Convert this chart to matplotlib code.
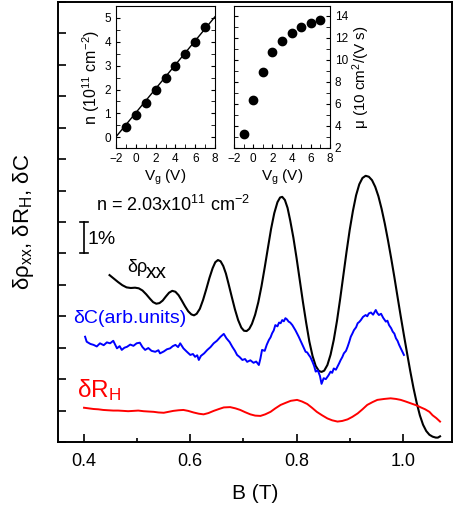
import matplotlib
matplotlib.use('Agg')
import matplotlib.pyplot as plt
from matplotlib.ticker import MultipleLocator, NullFormatter

plt.rcParams['font.family'] = ['Liberation Sans', 'DejaVu Sans']
plt.rcParams['mathtext.fontset'] = 'custom'
plt.rcParams['mathtext.rm'] = 'Liberation Sans'
plt.rcParams['mathtext.it'] = 'Liberation Sans'

# delta rho_xx (black)
b_rho = [0.448, 0.456, 0.464, 0.472, 0.480, 0.488, 0.496, 0.503, 0.510, 0.517,
         0.524, 0.530, 0.536, 0.542, 0.548, 0.554, 0.560, 0.566, 0.572, 0.578,
         0.584, 0.590, 0.596, 0.602, 0.607, 0.612, 0.618, 0.624, 0.630, 0.636,
         0.642, 0.647, 0.652, 0.657, 0.662, 0.667, 0.672, 0.678, 0.684, 0.690,
         0.696, 0.701, 0.706, 0.711, 0.716, 0.722, 0.728, 0.734, 0.740, 0.746,
         0.752, 0.758, 0.764, 0.769, 0.773, 0.778, 0.783, 0.788, 0.794, 0.800,
         0.806, 0.812, 0.818, 0.824, 0.830, 0.836, 0.842, 0.847, 0.852, 0.858,
         0.864, 0.870, 0.876, 0.882, 0.888, 0.894, 0.900, 0.906, 0.912, 0.918,
         0.924, 0.930, 0.936, 0.942, 0.948, 0.954, 0.960, 0.966, 0.972, 0.978,
         0.984, 0.990, 0.996, 1.002, 1.008, 1.014, 1.020, 1.026, 1.032, 1.038,
         1.044, 1.050, 1.056, 1.062, 1.066, 1.070]
rho = [5.31, 5.20, 5.09, 4.99, 4.92, 4.90, 4.91, 4.89, 4.82, 4.70,
       4.56, 4.45, 4.40, 4.42, 4.50, 4.63, 4.75, 4.81, 4.78, 4.67,
       4.50, 4.32, 4.16, 4.06, 4.03, 4.08, 4.24, 4.52, 4.86, 5.22,
       5.53, 5.72, 5.79, 5.75, 5.60, 5.36, 5.03, 4.62, 4.22, 3.88,
       3.64, 3.54, 3.53, 3.60, 3.76, 4.05, 4.45, 4.96, 5.55, 6.17,
       6.78, 7.28, 7.63, 7.78, 7.80, 7.70, 7.45, 7.05, 6.50, 5.85,
       5.15, 4.45, 3.80, 3.20, 2.74, 2.42, 2.26, 2.23, 2.27, 2.45,
       2.78, 3.25, 3.85, 4.55, 5.30, 6.05, 6.75, 7.35, 7.85, 8.20,
       8.40, 8.47, 8.44, 8.33, 8.12, 7.82, 7.42, 6.95, 6.42, 5.85,
       5.25, 4.62, 4.00, 3.40, 2.82, 2.25, 1.72, 1.25, 0.85, 0.55,
       0.35, 0.23, 0.17, 0.14, 0.14, 0.18]

# delta C (blue)
b_c = [0.402, 0.405, 0.412, 0.418, 0.424, 0.430, 0.437, 0.443, 0.449, 0.455,
       0.462, 0.467, 0.471, 0.476, 0.481, 0.487, 0.493, 0.499, 0.505, 0.510,
       0.515, 0.521, 0.527, 0.534, 0.540, 0.543, 0.550, 0.556, 0.562, 0.567,
       0.572, 0.577, 0.581, 0.587, 0.593, 0.600, 0.605, 0.609, 0.613, 0.616,
       0.620, 0.626, 0.632, 0.638, 0.644, 0.650, 0.657, 0.663, 0.668, 0.674,
       0.679, 0.684, 0.688, 0.693, 0.698, 0.703, 0.707, 0.713, 0.719, 0.724,
       0.729, 0.732, 0.735, 0.740, 0.744, 0.748, 0.751, 0.754, 0.757, 0.760,
       0.764, 0.767, 0.770, 0.773, 0.776, 0.779, 0.782, 0.785, 0.788, 0.792,
       0.798, 0.804, 0.808, 0.811, 0.814, 0.817, 0.820, 0.823, 0.826, 0.830,
       0.833, 0.836, 0.840, 0.844, 0.847, 0.851, 0.855, 0.860, 0.864, 0.867,
       0.870, 0.874, 0.877, 0.880, 0.883, 0.886, 0.889, 0.893, 0.896, 0.899,
       0.902, 0.905, 0.908, 0.912, 0.915, 0.918, 0.921, 0.925, 0.930, 0.933,
       0.936, 0.940, 0.944, 0.949, 0.952, 0.955, 0.959, 0.963, 0.968, 0.971,
       0.974, 0.978, 0.981, 0.984, 0.987, 0.990, 0.993, 0.997, 1.002]
dc = [3.35, 3.19, 3.12, 3.09, 3.04, 3.14, 3.08, 3.17, 3.14, 3.22,
      2.98, 3.05, 2.93, 3.00, 3.03, 3.10, 3.06, 3.14, 3.16, 3.02,
      2.93, 2.99, 2.90, 2.87, 2.92, 2.82, 2.88, 2.95, 2.98, 3.05,
      3.09, 3.02, 3.14, 2.98, 2.88, 2.77, 2.80, 2.71, 2.76, 2.61,
      2.74, 2.82, 2.93, 3.02, 3.14, 3.22, 3.35, 3.44, 3.30, 3.18,
      3.03, 2.90, 2.77, 2.70, 2.61, 2.64, 2.55, 2.60, 2.52, 2.56,
      2.45, 2.66, 2.93, 2.90, 3.10, 3.25, 3.33, 3.46, 3.55, 3.72,
      3.68, 3.80, 3.78, 3.88, 3.84, 3.94, 3.90, 3.83, 3.80, 3.72,
      3.55, 3.35, 3.20, 3.09, 2.98, 2.87, 2.85, 2.77, 2.70, 2.55,
      2.42, 2.24, 2.28, 2.10, 1.85, 2.03, 2.00, 2.12, 2.24, 2.20,
      2.34, 2.30, 2.40, 2.50, 2.61, 2.70, 2.82, 2.90, 3.03, 3.18,
      3.35, 3.45, 3.56, 3.65, 3.78, 3.82, 3.88, 3.98, 4.04, 4.00,
      4.09, 4.12, 4.05, 4.20, 4.10, 4.04, 4.08, 3.95, 3.83, 3.86,
      3.72, 3.62, 3.51, 3.45, 3.30, 3.22, 3.09, 2.95, 2.77]

# delta R_H (red)
b_rh = [0.400, 0.409, 0.418, 0.427, 0.436, 0.445, 0.455, 0.464, 0.474, 0.483,
        0.493, 0.502, 0.512, 0.521, 0.531, 0.540, 0.550, 0.559, 0.568, 0.578,
        0.587, 0.596, 0.606, 0.616, 0.625, 0.634, 0.644, 0.654, 0.663, 0.675,
        0.685, 0.694, 0.703, 0.713, 0.722, 0.732, 0.741, 0.751, 0.760, 0.770,
        0.780, 0.789, 0.801, 0.810, 0.820, 0.829, 0.838, 0.848, 0.858, 0.867,
        0.877, 0.886, 0.896, 0.905, 0.915, 0.924, 0.933, 0.943, 0.952, 0.965,
        0.977, 0.987, 0.996, 1.005, 1.015, 1.025, 1.034, 1.042, 1.050, 1.056,
        1.063, 1.070]
drh = [1.09, 1.07, 1.05, 1.04, 1.02, 1.01, 1.00, 1.00, 0.99, 0.98,
       0.99, 1.00, 0.98, 0.97, 0.96, 0.94, 0.93, 0.96, 0.99, 1.01,
       1.02, 0.99, 0.94, 0.90, 0.88, 0.92, 0.99, 1.05, 1.10, 1.11,
       1.07, 1.02, 0.95, 0.88, 0.84, 0.83, 0.88, 0.96, 1.07, 1.18,
       1.25, 1.31, 1.34, 1.29, 1.21, 1.09, 0.96, 0.85, 0.75, 0.69,
       0.65, 0.67, 0.72, 0.80, 0.91, 1.04, 1.18, 1.27, 1.34, 1.37,
       1.39, 1.37, 1.34, 1.29, 1.23, 1.17, 1.10, 1.04, 0.96, 0.85,
       0.76, 0.65]

# inset data
vg = [-1, 0, 1, 2, 3, 4, 5, 6, 7]
n_dens = [0.44, 0.94, 1.43, 1.98, 2.49, 3.00, 3.48, 3.98, 4.60]
n_fit_vg = [-2, 8]
n_fit = [0.02, 5.05]
mob = [3.3, 6.4, 8.9, 10.7, 11.7, 12.45, 12.95, 13.35, 13.6]

fig = plt.figure(figsize=(4.53, 5.15), dpi=100)
ax = fig.add_axes([58/453, 1-442/515, 394/453, 440/515])

ax.plot(b_rho, rho, color='black', lw=1.5)
ax.plot(b_c, dc, color='blue', lw=1.4)
ax.plot(b_rh, drh, color='red', lw=1.4)

# 1% scale bar
ax.plot([0.4, 0.4], [6, 7], color='black', lw=1.2)
ax.plot([0.393, 0.407], [6, 6], color='black', lw=1.2)
ax.plot([0.393, 0.407], [7, 7], color='black', lw=1.2)
ax.text(0.407, 6.45, '1%', fontsize=14, va='center', ha='left')

ax.text(0.423, 7.55, r'n = 2.03x10$^{11}$ cm$^{-2}$', fontsize=13, va='center', ha='left')
ax.text(0.482, 5.55, 'δρ', fontsize=13, va='center', ha='left')
ax.text(0.517, 5.40, 'xx', fontsize=15, va='center', ha='left')
ax.text(0.380, 3.93, 'δC(arb.units)', fontsize=14, color='blue', va='center', ha='left')
ax.text(0.387, 1.65, r'δR$_{\rm H}$', fontsize=17.5, color='red', va='center', ha='left')

ax.set_xlim(0.351, 1.0925)
ax.set_ylim(0, 14)
ax.xaxis.set_minor_locator(MultipleLocator(0.1))
ax.yaxis.set_major_locator(MultipleLocator(1))
ax.yaxis.set_major_formatter(NullFormatter())
ax.set_xticks([0.4, 0.6, 0.8, 1.0])
ax.set_xticklabels(['0.4', '0.6', '0.8', '1.0'])
ax.tick_params(axis='both', which='major', direction='in', length=6, width=1.2, labelsize=13)
ax.tick_params(axis='both', which='minor', direction='in', length=3, width=1.2)
ax.tick_params(axis='x', pad=8)
for s in ax.spines.values():
    s.set_linewidth(1.4)
ax.set_xlabel('B (T)', fontsize=15, labelpad=10)
ax.set_ylabel(r'δρ$_{\rm xx}$, δR$_{\rm H}$, δC', fontsize=16, labelpad=12)

# left inset
ax1 = fig.add_axes([116/453, 1-148/515, 99/453, 142/515])
ax1.plot(n_fit_vg, n_fit, color='black', lw=1.0)
ax1.plot(vg, n_dens, 'o', color='black', ms=6)
ax1.set_xlim(-2, 8)
ax1.set_ylim(-0.45, 5.5)
ax1.xaxis.set_major_locator(MultipleLocator(2))
ax1.xaxis.set_minor_locator(MultipleLocator(1))
ax1.yaxis.set_major_locator(MultipleLocator(1))
ax1.yaxis.set_minor_locator(MultipleLocator(0.5))
ax1.tick_params(which='both', direction='in', right=True, labelsize=8.5, length=3)
ax1.set_xlabel(r'V$_{\rm g}$ (V)', fontsize=11, labelpad=2)
ax1.set_ylabel(r'n (10$^{11}$ cm$^{-2}$)', fontsize=11.5, labelpad=2)

# right inset
ax2 = fig.add_axes([234/453, 1-148/515, 96/453, 142/515])
ax2.plot(vg, mob, 'o', color='black', ms=6)
ax2.set_xlim(-2, 8)
ax2.set_ylim(2, 14.9)
ax2.xaxis.set_major_locator(MultipleLocator(2))
ax2.xaxis.set_minor_locator(MultipleLocator(1))
ax2.yaxis.set_major_locator(MultipleLocator(2))
ax2.yaxis.set_minor_locator(MultipleLocator(1))
ax2.yaxis.tick_right()
ax2.yaxis.set_label_position('right')
ax2.tick_params(which='both', direction='in', left=True, right=True, labelsize=8.5, length=3)
ax2.set_xlabel(r'V$_{\rm g}$ (V)', fontsize=11, labelpad=2)
ax2.set_ylabel(r'μ (10 cm$^{2}$/(V s)', fontsize=11, labelpad=2)

fig.savefig('out.png', dpi=100)
